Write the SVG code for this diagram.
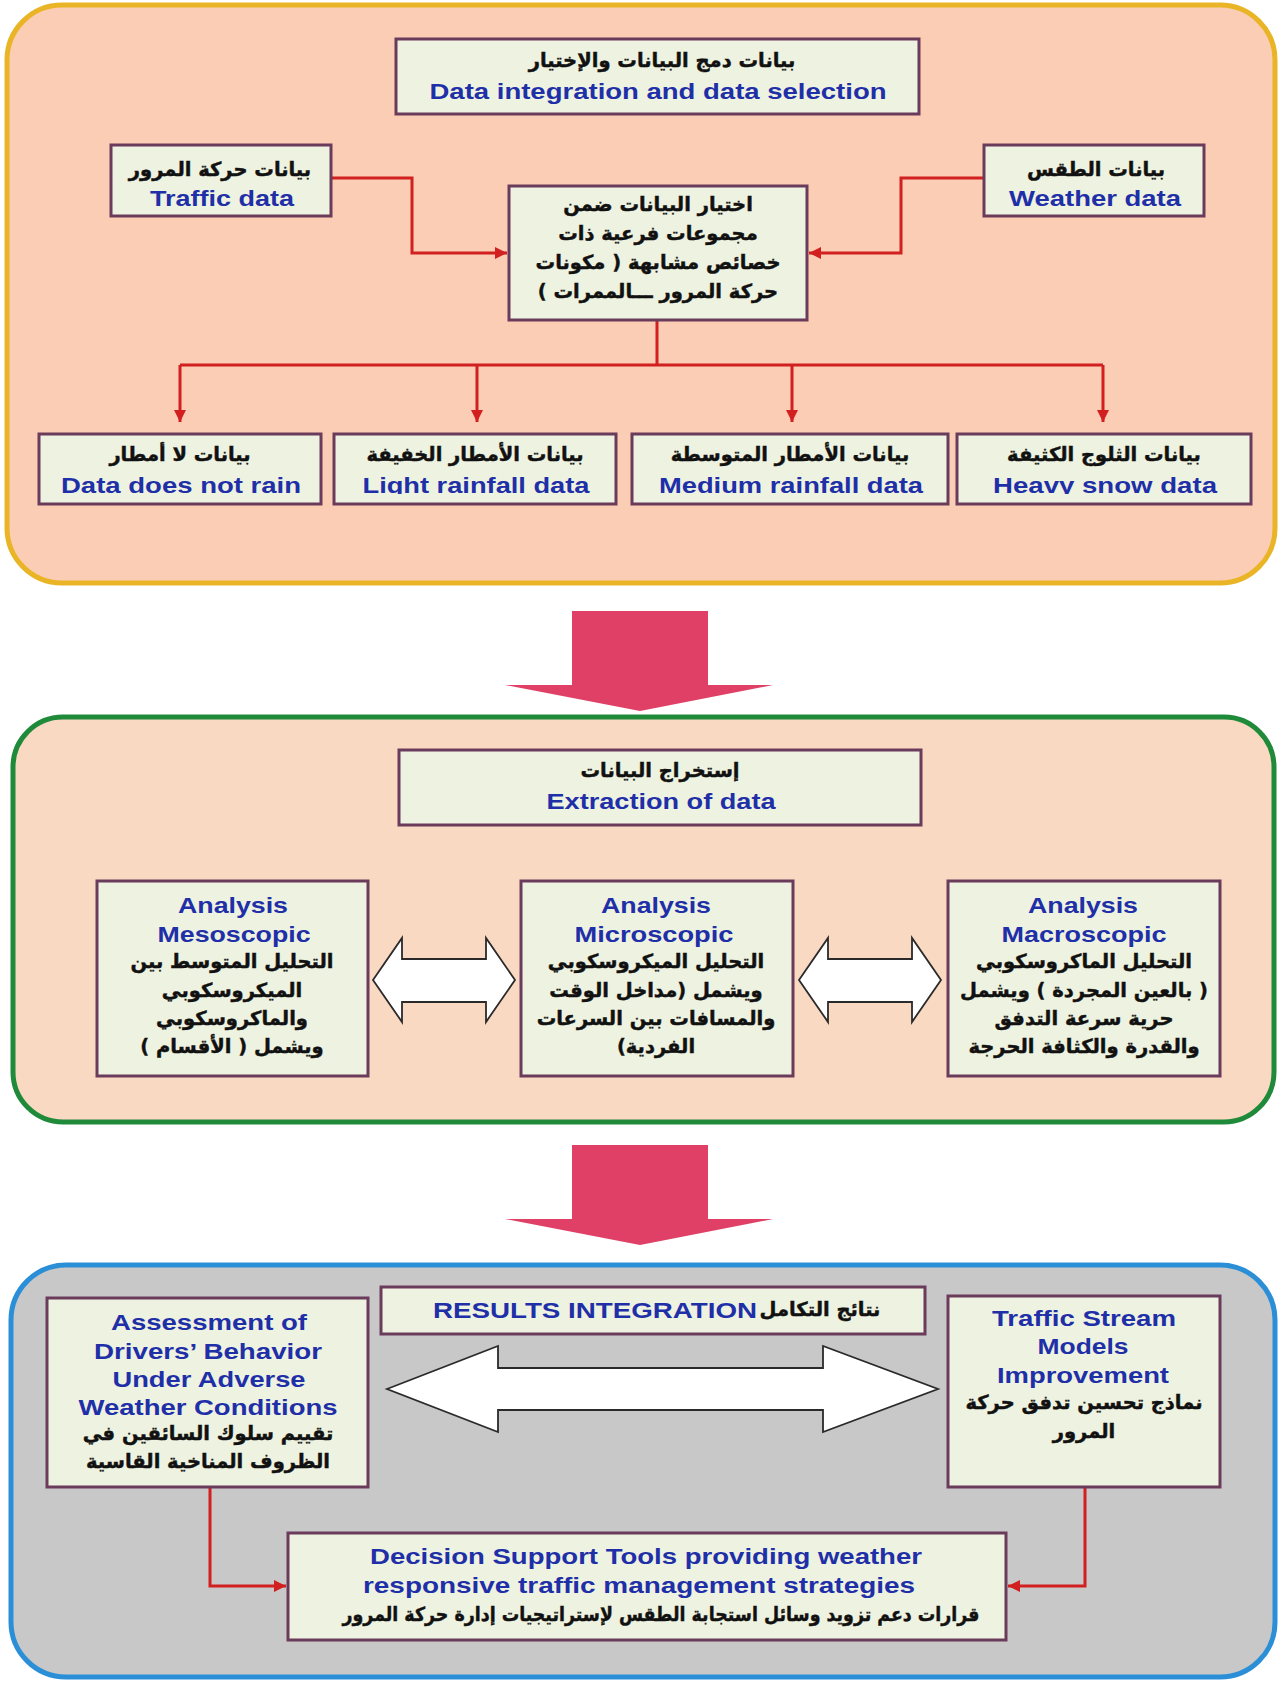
<svg xmlns="http://www.w3.org/2000/svg" width="1284" height="1683" viewBox="0 0 1284 1683">
<style>
.box{fill:#EEF2E0;stroke:#6A3B5B;stroke-width:3}
.en{font-family:"Liberation Sans",Arial,sans-serif;font-weight:bold;font-size:22px;fill:#1E2FA8;text-anchor:middle}
.ar{font-family:"DejaVu Sans",sans-serif;font-weight:bold;font-size:19.5px;fill:#111;stroke:#111;stroke-width:0.45px;text-anchor:middle;direction:rtl}
.con{fill:none;stroke:#D21F1F;stroke-width:3}
.dbl{fill:#FFFFFF;stroke:#2A2A2A;stroke-width:1.8;stroke-linejoin:miter}
.big{fill:#E04066}
</style>
<defs>
<marker id="ah" viewBox="0 0 10 10" refX="10" refY="5" markerWidth="14" markerHeight="12" markerUnits="userSpaceOnUse" orient="auto">
<path d="M0,0 L10,5 L0,10 z" fill="#D21F1F"/>
</marker>
<clipPath id="rowclip"><rect x="0" y="430" width="1284" height="64"/></clipPath>
</defs>
<rect width="1284" height="1683" fill="#FFFFFF"/>

<g id="panel-top">
<rect x="7" y="5" width="1268" height="578" rx="55" fill="#FACDB4" stroke="#E9B526" stroke-width="5"/>
</g>
<g id="panel-middle">
<rect x="13" y="717" width="1261" height="405" rx="50" fill="#FAD9C3" stroke="#1F8A3A" stroke-width="5"/>
</g>
<g id="panel-bottom">
<rect x="11" y="1265" width="1264" height="412" rx="55" fill="#C8C8C8" stroke="#2B8FD8" stroke-width="5"/>
</g>

<g id="connectors">
<path class="con" d="M331,178 H412 V253 H507" marker-end="url(#ah)"/>
<path class="con" d="M984,178 H901 V253 H809" marker-end="url(#ah)"/>
<path class="con" d="M657,320 V365"/>
<path class="con" d="M180,365 H1103"/>
<path class="con" d="M180,365 V422" marker-end="url(#ah)"/>
<path class="con" d="M477,365 V422" marker-end="url(#ah)"/>
<path class="con" d="M792,365 V422" marker-end="url(#ah)"/>
<path class="con" d="M1103,365 V422" marker-end="url(#ah)"/>
<path class="con" d="M210,1487 V1586 H286" marker-end="url(#ah)"/>
<path class="con" d="M1085,1487 V1586 H1008" marker-end="url(#ah)"/>
<polygon class="big" points="572,611 708,611 708,685 773,685 640,711 505,685 572,685"/>
<polygon class="big" points="572,1145 708,1145 708,1219 773,1219 640,1245 505,1219 572,1219"/>
<polygon class="dbl" points="373,980 402,938 402,959 486,959 486,938 515,980 486,1022 486,1002 402,1002 402,1022"/>
<polygon class="dbl" points="799,980 828,938 828,959 912,959 912,938 941,980 912,1022 912,1002 828,1002 828,1022"/>
<polygon class="dbl" points="387,1389 498,1346 498,1368 823,1368 823,1346 938,1389 823,1432 823,1410 498,1410 498,1432"/>
</g>

<g id="n-title">
<rect class="box" x="396" y="39" width="523" height="75"/>
<text class="ar" x="662" y="67">بيانات دمج البيانات والإختيار</text>
<text class="en" x="658" y="98.5" textLength="457" lengthAdjust="spacingAndGlyphs">Data integration and data selection</text>
</g>
<g id="n-traffic">
<rect class="box" x="111" y="145" width="220" height="71"/>
<text class="ar" x="220" y="176">بيانات حركة المرور</text>
<text class="en" x="222" y="205.5" textLength="144" lengthAdjust="spacingAndGlyphs">Traffic data</text>
</g>
<g id="n-weather">
<rect class="box" x="984" y="145" width="220" height="71"/>
<text class="ar" x="1096" y="176">بيانات الطقس</text>
<text class="en" x="1095" y="205.5" textLength="172" lengthAdjust="spacingAndGlyphs">Weather data</text>
</g>
<g id="n-select">
<rect class="box" x="509" y="186" width="298" height="134"/>
<text class="ar" x="658" y="211">اختيار البيانات ضمن</text>
<text class="ar" x="658" y="240">مجموعات فرعية ذات</text>
<text class="ar" x="658" y="269">خصائص مشابهة ( مكونات</text>
<text class="ar" x="658" y="298">حركة المرور ـــالممرات )</text>
</g>
<g id="n-norain">
<rect class="box" x="39" y="434" width="282" height="70"/>
<text class="ar" x="180" y="461">بيانات لا أمطار</text>
<text class="en" x="181" y="493" textLength="240" lengthAdjust="spacingAndGlyphs" clip-path="url(#rowclip)">Data does not rain</text>
</g>
<g id="n-light">
<rect class="box" x="334" y="434" width="282" height="70"/>
<text class="ar" x="475" y="461">بيانات الأمطار الخفيفة</text>
<text class="en" x="476" y="493" textLength="227" lengthAdjust="spacingAndGlyphs" clip-path="url(#rowclip)">Light rainfall data</text>
</g>
<g id="n-medium">
<rect class="box" x="632" y="434" width="316" height="70"/>
<text class="ar" x="790" y="461">بيانات الأمطار المتوسطة</text>
<text class="en" x="791" y="493" textLength="264" lengthAdjust="spacingAndGlyphs" clip-path="url(#rowclip)">Medium rainfall data</text>
</g>
<g id="n-snow">
<rect class="box" x="957" y="434" width="294" height="70"/>
<text class="ar" x="1104" y="461">بيانات الثلوج الكثيفة</text>
<text class="en" x="1105" y="493" textLength="224" lengthAdjust="spacingAndGlyphs" clip-path="url(#rowclip)">Heavy snow data</text>
</g>

<g id="n-extraction">
<rect class="box" x="399" y="750" width="522" height="75"/>
<text class="ar" x="660" y="777">إستخراج البيانات</text>
<text class="en" x="661" y="808.5" textLength="229" lengthAdjust="spacingAndGlyphs">Extraction of data</text>
</g>
<g id="n-meso">
<rect class="box" x="97" y="881" width="271" height="195"/>
<text class="en" x="233" y="912.5" textLength="110" lengthAdjust="spacingAndGlyphs">Analysis</text>
<text class="en" x="234" y="941.5" textLength="153" lengthAdjust="spacingAndGlyphs">Mesoscopic</text>
<text class="ar" x="232" y="968">التحليل المتوسط بين</text>
<text class="ar" x="232" y="997">الميكروسكوبي</text>
<text class="ar" x="232" y="1025">والماكروسكوبي</text>
<text class="ar" x="232" y="1053">ويشمل ( الأقسام )</text>
</g>
<g id="n-micro">
<rect class="box" x="521" y="881" width="272" height="195"/>
<text class="en" x="656" y="912.5" textLength="110" lengthAdjust="spacingAndGlyphs">Analysis</text>
<text class="en" x="654" y="941.5" textLength="159" lengthAdjust="spacingAndGlyphs">Microscopic</text>
<text class="ar" x="656" y="968">التحليل الميكروسكوبي</text>
<text class="ar" x="656" y="997">ويشمل (مداخل الوقت</text>
<text class="ar" x="656" y="1025">والمسافات بين السرعات</text>
<text class="ar" x="656" y="1053">الفردية)</text>
</g>
<g id="n-macro">
<rect class="box" x="948" y="881" width="272" height="195"/>
<text class="en" x="1083" y="912.5" textLength="110" lengthAdjust="spacingAndGlyphs">Analysis</text>
<text class="en" x="1084" y="941.5" textLength="165" lengthAdjust="spacingAndGlyphs">Macroscopic</text>
<text class="ar" x="1084" y="968">التحليل الماكروسكوبي</text>
<text class="ar" x="1084" y="997">( بالعين المجردة ) ويشمل</text>
<text class="ar" x="1084" y="1025">حرية سرعة التدفق</text>
<text class="ar" x="1084" y="1053">والقدرة والكثافة الحرجة</text>
</g>

<g id="n-results">
<rect class="box" x="381" y="1287" width="544" height="47"/>
<text class="en" x="595" y="1317.5" textLength="324" lengthAdjust="spacingAndGlyphs">RESULTS INTEGRATION</text>
<text class="ar" x="820" y="1316">نتائج التكامل</text>
</g>
<g id="n-assessment">
<rect class="box" x="47" y="1298" width="321" height="189"/>
<text class="en" x="209" y="1329.5" textLength="196" lengthAdjust="spacingAndGlyphs">Assessment of</text>
<text class="en" x="208" y="1358.5" textLength="228" lengthAdjust="spacingAndGlyphs">Drivers’ Behavior</text>
<text class="en" x="209" y="1386.5" textLength="193" lengthAdjust="spacingAndGlyphs">Under Adverse</text>
<text class="en" x="208" y="1414.5" textLength="259" lengthAdjust="spacingAndGlyphs">Weather Conditions</text>
<text class="ar" x="208" y="1440">تقييم سلوك السائقين في</text>
<text class="ar" x="208" y="1468">الظروف المناخية القاسية</text>
</g>
<g id="n-stream">
<rect class="box" x="948" y="1296" width="272" height="191"/>
<text class="en" x="1084" y="1325.5" textLength="184" lengthAdjust="spacingAndGlyphs">Traffic Stream</text>
<text class="en" x="1083" y="1354" textLength="91" lengthAdjust="spacingAndGlyphs">Models</text>
<text class="en" x="1083" y="1382.5" textLength="172" lengthAdjust="spacingAndGlyphs">Improvement</text>
<text class="ar" x="1084" y="1409">نماذج تحسين تدفق حركة</text>
<text class="ar" x="1084" y="1438">المرور</text>
</g>
<g id="n-decision">
<rect class="box" x="288" y="1533" width="718" height="107"/>
<text class="en" x="646" y="1563.5" textLength="552" lengthAdjust="spacingAndGlyphs">Decision Support Tools providing weather</text>
<text class="en" x="639" y="1592.5" textLength="552" lengthAdjust="spacingAndGlyphs">responsive traffic management strategies</text>
<text class="ar" x="661" y="1621" textLength="637" lengthAdjust="spacingAndGlyphs">قرارات دعم تزويد وسائل استجابة الطقس لإستراتيجيات إدارة حركة المرور</text>
</g>
</svg>
